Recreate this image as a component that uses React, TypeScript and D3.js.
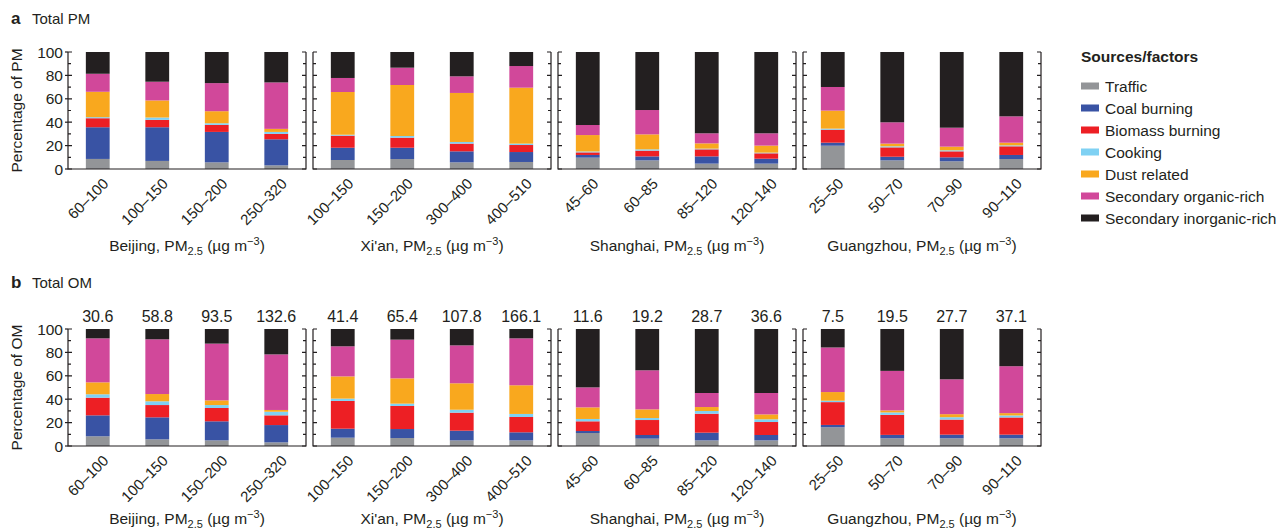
import React, { useEffect } from 'react';
import * as d3 from 'd3';

const sources = [
  'Traffic',
  'Coal burning',
  'Biomass burning',
  'Cooking',
  'Dust related',
  'Secondary organic-rich',
  'Secondary inorganic-rich',
];
const colors = ['#939598', '#3953a4', '#ed1f24', '#7fd1f3', '#f9a81e', '#d1489a', '#231f20'];

const cities = ['Beijing', "Xi'an", 'Shanghai', 'Guangzhou'];
const bins = [
  ['60–100', '100–150', '150–200', '250–320'],
  ['100–150', '150–200', '300–400', '400–510'],
  ['45–60', '60–85', '85–120', '120–140'],
  ['25–50', '50–70', '70–90', '90–110'],
];

// % of total PM, 16 bars: Beijing x4, Xi'an x4, Shanghai x4, Guangzhou x4
const pmTraffic = [8.6, 6.9, 5.7, 3.1, 7.7, 8.5, 5.7, 6.0, 9.7, 7.4, 4.6, 4.6, 19.9, 7.4, 6.6, 8.5];
const pmCoal = [27.1, 28.8, 26.0, 22.3, 10.5, 9.7, 9.4, 8.5, 2.3, 3.4, 6.2, 4.2, 2.6, 3.1, 3.4, 3.5];
const pmBiomass = [7.7, 6.3, 6.0, 4.6, 10.3, 8.6, 6.6, 6.0, 2.2, 4.9, 6.0, 4.6, 11.1, 8.0, 5.1, 7.4];
const pmCooking = [0.9, 2.0, 1.4, 1.7, 0.8, 1.4, 1.4, 1.2, 0.8, 1.1, 0.6, 0.6, 0.9, 0.9, 0.9, 0.8];
const pmDust = [21.7, 14.6, 10.3, 2.6, 36.5, 43.6, 41.9, 47.8, 14.0, 12.8, 4.5, 6.0, 15.4, 2.3, 3.1, 2.3];
const pmSOA = [15.4, 16.0, 24.0, 39.7, 12.0, 14.8, 14.2, 18.5, 8.6, 20.8, 8.6, 10.5, 20.2, 18.2, 16.2, 22.5];
const pmSIA = [18.6, 25.4, 26.6, 26.0, 22.2, 13.4, 20.8, 12.0, 62.4, 49.6, 69.5, 69.5, 29.9, 60.1, 64.7, 55.0];

// % of total OM
const omTraffic = [8.3, 5.7, 4.8, 3.1, 7.1, 6.8, 4.8, 4.8, 11.1, 6.3, 4.8, 4.8, 16.0, 6.6, 6.6, 6.6];
const omCoal = [17.9, 18.8, 16.3, 14.8, 7.7, 7.7, 8.3, 6.9, 1.7, 3.1, 6.6, 4.6, 2.0, 2.9, 3.1, 3.1];
const omBiomass = [15.1, 10.5, 11.4, 8.3, 23.7, 19.7, 15.4, 13.1, 8.3, 12.8, 16.2, 11.1, 19.5, 17.1, 12.9, 14.7];
const omCooking = [2.9, 3.2, 2.5, 3.1, 2.0, 2.0, 2.5, 2.6, 2.0, 1.7, 2.3, 2.3, 1.2, 2.1, 2.0, 1.7];
const omDust = [10.2, 6.2, 4.0, 1.5, 19.0, 21.6, 22.6, 24.5, 9.9, 7.4, 3.4, 4.2, 7.4, 1.7, 2.6, 2.0];
const omSOA = [37.6, 46.8, 48.5, 47.5, 25.7, 33.1, 32.4, 40.1, 17.1, 33.4, 12.0, 18.3, 38.1, 33.8, 29.8, 40.1];
const omSIA = [8.0, 8.8, 12.5, 21.7, 14.8, 9.1, 14.0, 8.0, 49.9, 35.3, 54.7, 54.7, 15.8, 35.8, 43.0, 31.8];

// OM concentration printed above each bar
const omTotals = ['30.6', '58.8', '93.5', '132.6', '41.4', '65.4', '107.8', '166.1', '11.6', '19.2', '28.7', '36.6', '7.5', '19.5', '27.7', '37.1'];

const yTicks = [0, 20, 40, 60, 80, 100];
const yMinor = [10, 30, 50, 70, 90];

const FONT = '"Liberation Sans", Arial, Helvetica, sans-serif';
const INK = '#231f20';

const panelX0 = 68;
const panelW = 238;
const panelStep = 245;

const buildRows = (series: number[][]) =>
  d3.range(16).map(i => {
    const row: Record<string, number> = {};
    sources.forEach((s, k) => (row[s] = series[k][i]));
    return row;
  });

const pmRows = buildRows([pmTraffic, pmCoal, pmBiomass, pmCooking, pmDust, pmSOA, pmSIA]);
const omRows = buildRows([omTraffic, omCoal, omBiomass, omCooking, omDust, omSOA, omSIA]);

const stack = d3.stack<Record<string, number>>().keys(sources);

type ChartProps = {
  rows: Record<string, number>[];
  top: number;
  label: string;
  title: string;
  letter: string;
  titleY: number;
  cityDy: number;
  totals?: string[];
};

const Chart = ({ rows, top, label, title, letter, titleY, cityDy, totals }: ChartProps) => {
  const h = 117;
  const y = d3.scaleLinear().domain([0, 100]).range([top + h, top]);
  const layers = stack(rows);

  return (
    <g>
      <text x={11} y={titleY} fontFamily={FONT} fontSize={17} fontWeight="bold" fill={INK}>
        {letter}
      </text>
      <text x={32} y={titleY} fontFamily={FONT} fontSize={15} fill={INK}>
        {title}
      </text>

      <text
        transform={`translate(${22},${top + h / 2}) rotate(-90)`}
        textAnchor="middle"
        fontFamily={FONT}
        fontSize={15.5}
        fill={INK}
      >
        {label}
      </text>
      {yTicks.map(t => (
        <text
          key={t}
          x={panelX0 - 5}
          y={y(t)}
          dy="0.36em"
          textAnchor="end"
          fontFamily={FONT}
          fontSize={15.5}
          fill={INK}
        >
          {t}
        </text>
      ))}

      {cities.map((city, c) => {
        const x0 = panelX0 + c * panelStep;
        const x1 = x0 + panelW;
        const x = d3.scaleBand().domain(bins[c]).range([x0, x1]).paddingInner(0.6).paddingOuter(0.3);
        return (
          <g key={city}>
            {layers.map((layer, k) => (
              <g key={layer.key} fill={colors[k]}>
                {bins[c].map((b, j) => {
                  const d = layer[c * 4 + j];
                  return (
                    <rect
                      key={b}
                      x={x(b)}
                      width={x.bandwidth()}
                      y={y(d[1])}
                      height={Math.max(0, y(d[0]) - y(d[1]))}
                    />
                  );
                })}
              </g>
            ))}

            {totals &&
              bins[c].map((b, j) => (
                <text
                  key={b}
                  x={(x(b) as number) + x.bandwidth() / 2}
                  y={top - 7}
                  textAnchor="middle"
                  fontFamily={FONT}
                  fontSize={16}
                  fill={INK}
                >
                  {totals[c * 4 + j]}
                </text>
              ))}

            <g stroke={INK} strokeWidth={1.2} fill="none">
              <path d={`M${x0},${y(100)}V${y(0)}H${x1}V${y(100)}`} />
              {yTicks.map(t => (
                <path key={`M${t}`} d={`M${x0},${y(t)}h4M${x1},${y(t)}h-4`} />
              ))}
              {yMinor.map(t => (
                <path key={`m${t}`} d={`M${x0},${y(t)}h3M${x1},${y(t)}h-3`} />
              ))}
              {c === 0 && yTicks.map(t => <path key={`o${t}`} d={`M${x0},${y(t)}h-3`} />)}
            </g>

            {bins[c].map(b => {
              const cx = (x(b) as number) + x.bandwidth() / 2;
              return (
                <text
                  key={b}
                  transform={`translate(${cx + 4},${y(0) + 8}) rotate(-45)`}
                  textAnchor="end"
                  dy="0.72em"
                  fontFamily={FONT}
                  fontSize={15}
                  fill={INK}
                >
                  {b}
                </text>
              );
            })}

            <text
              x={(x0 + x1) / 2}
              y={y(0) + cityDy}
              textAnchor="middle"
              fontFamily={FONT}
              fontSize={15.5}
              fill={INK}
            >
              {city}, PM
              <tspan fontSize={11} dy={4}>
                2.5
              </tspan>
              <tspan dy={-4}> (µg m</tspan>
              <tspan fontSize={11} dy={-6}>
                −3
              </tspan>
              <tspan dy={6}>)</tspan>
            </text>
          </g>
        );
      })}
    </g>
  );
};

const Legend = () => {
  const items = d3.scaleBand().domain(sources).range([75, 229]);
  return (
    <g fontFamily={FONT} fill={INK}>
      <text x={1081} y={62} fontSize={15.5} fontWeight="bold">
        Sources/factors
      </text>
      {sources.map((s, k) => {
        const cy = (items(s) as number) + items.bandwidth() / 2;
        return (
          <g key={s}>
            <rect x={1081} y={cy - 3.5} width={18} height={7} fill={colors[k]} />
            <text x={1105} y={cy} dy="0.36em" fontSize={15.5}>
              {s}
            </text>
          </g>
        );
      })}
    </g>
  );
};

const App = () => {
  useEffect(() => {
    document.body.style.margin = '0';
  }, []);

  return (
    <svg width={1285} height={532} style={{ display: 'block', background: '#fff' }}>
      <Chart
        rows={pmRows}
        top={52}
        label="Percentage of PM"
        title="Total PM"
        letter="a"
        titleY={24}
        cityDy={82}
      />
      <Chart
        rows={omRows}
        top={329}
        label="Percentage of OM"
        title="Total OM"
        letter="b"
        titleY={288}
        cityDy={78}
        totals={omTotals}
      />
      <Legend />
    </svg>
  );
};

export default App;
